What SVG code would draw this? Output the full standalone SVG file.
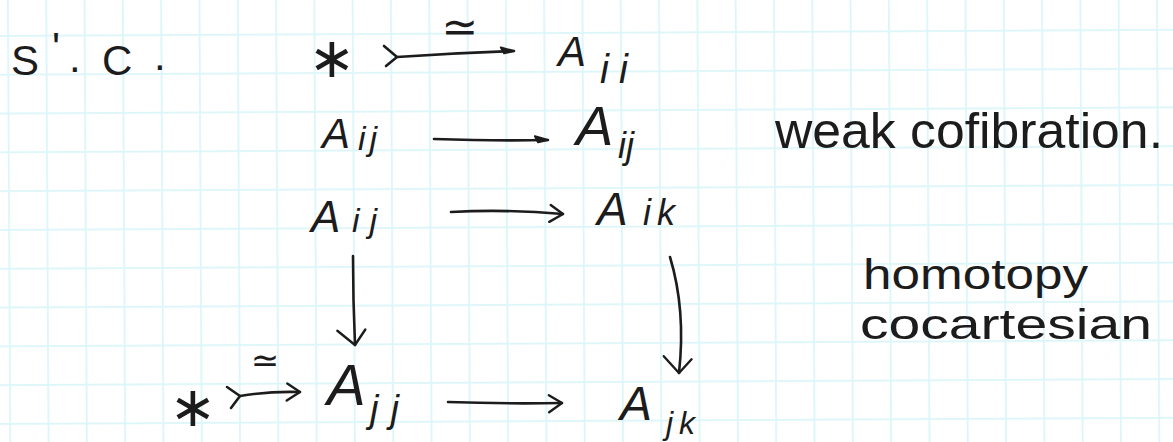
<svg xmlns="http://www.w3.org/2000/svg" width="1173" height="442" viewBox="0 0 1173 442">
<defs>
<pattern id="grid" patternUnits="userSpaceOnUse" x="7" y="35" width="38.3" height="38.8" patternTransform="rotate(-0.3)">
<rect x="0" y="0" width="38.3" height="1.8" fill="#dcf6f9"/>
<rect x="0" y="0" width="1.8" height="38.8" fill="#dcf6f9"/>
</pattern>
<marker id="open" markerUnits="userSpaceOnUse" markerWidth="20" markerHeight="24" refX="14" refY="12" orient="auto" overflow="visible">
<path d="M1,4 L14,12 L1,21" fill="none" stroke="#1c1c1c" stroke-width="2.4" stroke-linecap="round" stroke-linejoin="round"/>
</marker>
<marker id="vee" markerUnits="userSpaceOnUse" markerWidth="24" markerHeight="36" refX="15" refY="18" orient="auto" overflow="visible">
<path d="M0,7 L15,18 L0,35" fill="none" stroke="#1c1c1c" stroke-width="2.4" stroke-linecap="round" stroke-linejoin="round"/>
</marker>
<marker id="flag" markerUnits="userSpaceOnUse" markerWidth="16" markerHeight="16" refX="13" refY="6" orient="auto" overflow="visible">
<path d="M0,2 L13,6 L3,8 Z" fill="#1c1c1c" stroke="#1c1c1c" stroke-width="2" stroke-linejoin="round"/>
</marker>
</defs>
<style>
.t{font-family:"Liberation Sans",Arial,sans-serif;fill:#1c1c1c}
.m{font-family:"Liberation Sans",Arial,sans-serif;font-style:italic;fill:#1c1c1c}
.s{font-family:"DejaVu Sans",sans-serif;fill:#1c1c1c}
.c{fill:none;stroke:#1c1c1c;stroke-width:2.6;stroke-linecap:round;stroke-linejoin:round}
</style>
<rect width="1173" height="442" fill="#ffffff"/>
<rect x="-20" y="-20" width="1220" height="490" fill="url(#grid)"/>

<g id="title">
<text class="t" x="11" y="75" font-size="42">S</text>
<text class="t" x="52" y="62" font-size="42">'</text>
<text class="t" x="69" y="72" font-size="42">.</text>
<text class="t" x="102" y="75" font-size="42">C</text>
<text class="t" x="154" y="70" font-size="42">.</text>
</g>

<g id="star-top"><text class="s" x="332" y="77" font-size="56" text-anchor="middle">∗</text></g>
<g id="A-ii"><text class="m" x="558" y="66" font-size="42">A</text><text class="m" x="600" y="83" font-size="40" letter-spacing="10">ii</text></g>

<g id="A-ij-left"><text class="m" x="322" y="148" font-size="42">A</text><text class="m" x="358" y="150" font-size="34" letter-spacing="4">ij</text></g>
<g id="A-ij-right"><text class="m" x="576" y="145" font-size="56">A</text><text class="m" x="618" y="158" font-size="36">ij</text></g>
<g id="label-weak"><text class="t" x="775" y="148" font-size="50" textLength="388" lengthAdjust="spacingAndGlyphs">weak cofibration.</text></g>

<g id="A-ij-mid"><text class="m" x="311" y="232" font-size="44">A</text><text class="m" x="352" y="232" font-size="34" letter-spacing="10">ij</text></g>
<g id="A-ik"><text class="m" x="597" y="225" font-size="46">A</text><text class="m" x="643" y="225" font-size="36" letter-spacing="6">ik</text></g>

<g id="label-homotopy">
<text class="t" x="863" y="289" font-size="43" textLength="225" lengthAdjust="spacingAndGlyphs">homotopy</text>
<text class="t" x="860" y="339" font-size="43" textLength="292" lengthAdjust="spacingAndGlyphs">cocartesian</text>
</g>

<g id="star-bottom"><text class="s" x="193" y="426" font-size="56" text-anchor="middle">∗</text></g>
<g id="A-jj"><text class="m" x="327" y="405" font-size="58">A</text><text class="m" x="370" y="422" font-size="38" letter-spacing="12">jj</text></g>
<g id="A-jk"><text class="m" x="620" y="420" font-size="48">A</text><text class="m" x="666" y="434" font-size="32" letter-spacing="6">jk</text></g>

<g id="connectors">
<path class="c" d="M384,46 L397,57 L386,66"/>
<path class="c" d="M397,57 Q455,53 514,51" marker-end="url(#flag)"/>
<text class="s" x="460" y="42" font-size="44" text-anchor="middle">≃</text>

<path class="c" d="M434,139 Q495,141 548,140" marker-end="url(#flag)"/>

<path class="c" d="M451,212 Q505,209 563,214" marker-end="url(#open)"/>

<path class="c" d="M353,256 Q353,300 355,345" marker-end="url(#vee)"/>
<path class="c" d="M670,257 Q686,310 679,373" marker-end="url(#vee)"/>

<path class="c" d="M227,387 L240,396 L231,408"/>
<path class="c" d="M240,396 Q270,391 300,392" marker-end="url(#open)"/>
<text class="s" x="265" y="372" font-size="34" text-anchor="middle">≃</text>

<path class="c" d="M448,402 Q505,404 562,403" marker-end="url(#open)"/>
</g>
</svg>
